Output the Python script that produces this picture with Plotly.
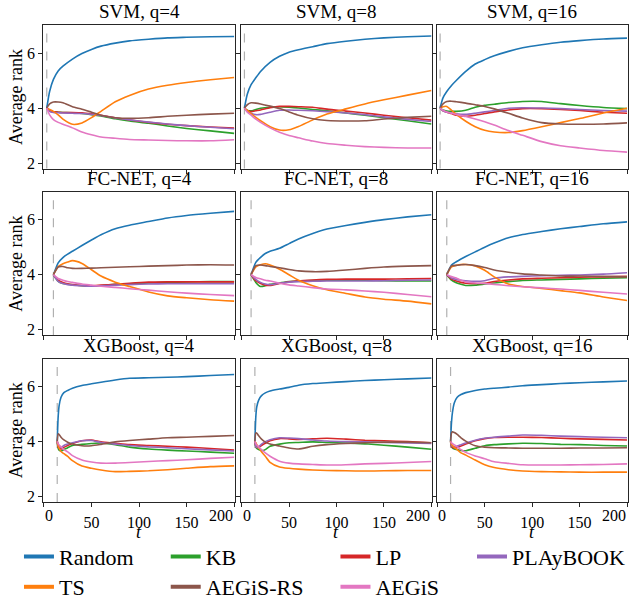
import plotly.graph_objects as go

# ---------------- data ----------------
methods = ["Random", "KB", "LP", "PLAyBOOK", "TS", "AEGiS-RS", "AEGiS"]
colors = ["#1f77b4", "#2ca02c", "#d62728", "#9467bd", "#ff7f0e", "#8c564b", "#e377c2"]
models = ["SVM", "FC-NET", "XGBoost"]
qs = [4, 8, 16]
start_t = [3, 10, 14]          # initial-design size (dashed line)
x_ticks = [0, 50, 100, 150, 200]
x_ticklabels = ["0", "50", "100", "150", "200"]
y_ticks = [2, 4, 6]

t_svm = [3, 6, 10, 15, 20, 30, 40, 50, 60, 75, 90, 110, 130, 150, 175, 200]
t_fc = [10, 15, 20, 25, 30, 40, 50, 60, 75, 90, 110, 130, 150, 175, 200]
t_xgb = [14, 15, 16, 18, 21, 25, 30, 40, 50, 60, 75, 90, 110, 130, 150, 175, 200]

# SVM q=4
svm4_random = [4.0, 4.6, 5.04, 5.35, 5.52, 5.78, 5.98, 6.13, 6.25, 6.36, 6.44, 6.50, 6.55, 6.57, 6.59, 6.60]
svm4_kb = [4.0, 3.9, 3.86, 3.85, 3.84, 3.83, 3.80, 3.76, 3.71, 3.61, 3.53, 3.45, 3.35, 3.26, 3.17, 3.08]
svm4_lp = [4.0, 3.9, 3.86, 3.85, 3.84, 3.84, 3.83, 3.79, 3.74, 3.65, 3.57, 3.48, 3.41, 3.36, 3.31, 3.27]
svm4_play = [4.0, 3.88, 3.84, 3.83, 3.82, 3.81, 3.80, 3.77, 3.73, 3.64, 3.57, 3.49, 3.42, 3.36, 3.30, 3.25]
svm4_ts = [4.0, 3.95, 3.88, 3.75, 3.6, 3.41, 3.46, 3.65, 3.88, 4.23, 4.46, 4.69, 4.83, 4.93, 5.03, 5.11]
svm4_rs = [4.0, 4.15, 4.22, 4.22, 4.19, 4.05, 3.96, 3.85, 3.74, 3.65, 3.63, 3.65, 3.70, 3.74, 3.78, 3.81]
svm4_aegis = [4.0, 3.75, 3.58, 3.48, 3.41, 3.28, 3.13, 3.03, 2.95, 2.90, 2.86, 2.84, 2.82, 2.81, 2.81, 2.85]

# SVM q=8
svm8_random = [4.0, 4.5, 4.85, 5.1, 5.33, 5.66, 5.88, 6.03, 6.12, 6.23, 6.34, 6.43, 6.50, 6.55, 6.59, 6.62]
svm8_kb = [4.0, 3.92, 3.9, 3.95, 3.99, 4.03, 4.05, 4.03, 4.0, 3.95, 3.9, 3.82, 3.74, 3.65, 3.54, 3.42]
svm8_lp = [4.0, 3.9, 3.87, 3.9, 3.93, 4.01, 4.06, 4.06, 4.05, 4.03, 3.96, 3.89, 3.82, 3.74, 3.65, 3.56]
svm8_play = [4.0, 3.88, 3.81, 3.76, 3.77, 3.85, 3.92, 3.93, 3.92, 3.9, 3.87, 3.82, 3.76, 3.68, 3.59, 3.51]
svm8_ts = [4.0, 3.92, 3.80, 3.66, 3.54, 3.32, 3.2, 3.21, 3.33, 3.57, 3.78, 3.97, 4.15, 4.30, 4.47, 4.64]
svm8_rs = [4.0, 4.12, 4.19, 4.18, 4.15, 4.07, 3.98, 3.86, 3.74, 3.61, 3.55, 3.53, 3.54, 3.60, 3.66, 3.70]
svm8_aegis = [4.0, 3.85, 3.74, 3.6, 3.48, 3.28, 3.12, 3.0, 2.92, 2.80, 2.71, 2.65, 2.60, 2.57, 2.55, 2.55]

# SVM q=16
svm16_random = [4.0, 4.37, 4.6, 4.82, 5.0, 5.33, 5.6, 5.76, 5.9, 6.06, 6.19, 6.3, 6.39, 6.45, 6.51, 6.54]
svm16_kb = [4.0, 3.93, 3.89, 3.88, 3.88, 3.92, 4.03, 4.1, 4.14, 4.2, 4.24, 4.24, 4.16, 4.09, 4.02, 3.98]
svm16_lp = [4.0, 3.9, 3.85, 3.8, 3.74, 3.7, 3.74, 3.8, 3.86, 3.93, 3.98, 3.98, 3.95, 3.91, 3.85, 3.81]
svm16_play = [4.0, 3.9, 3.85, 3.82, 3.79, 3.77, 3.81, 3.86, 3.91, 3.99, 4.01, 4.0, 3.98, 3.95, 3.91, 3.89]
svm16_ts = [4.0, 4.05, 4.06, 3.92, 3.77, 3.52, 3.32, 3.19, 3.13, 3.11, 3.18, 3.32, 3.47, 3.62, 3.82, 3.99]
svm16_rs = [4.0, 4.15, 4.24, 4.25, 4.23, 4.18, 4.12, 4.06, 3.97, 3.81, 3.64, 3.47, 3.42, 3.41, 3.42, 3.46]
svm16_aegis = [4.0, 3.92, 3.86, 3.81, 3.77, 3.69, 3.6, 3.5, 3.38, 3.18, 3.01, 2.78, 2.63, 2.55, 2.46, 2.40]

# FC-NET q=4
fc4_random = [4.0, 4.43, 4.62, 4.75, 4.85, 5.06, 5.26, 5.45, 5.67, 5.8, 5.93, 6.06, 6.15, 6.23, 6.30]
fc4_kb = [4.0, 3.76, 3.68, 3.65, 3.63, 3.6, 3.58, 3.6, 3.65, 3.67, 3.7, 3.72, 3.74, 3.75, 3.75]
fc4_lp = [4.0, 3.8, 3.72, 3.67, 3.64, 3.61, 3.6, 3.62, 3.65, 3.69, 3.73, 3.74, 3.74, 3.74, 3.74]
fc4_play = [4.0, 3.76, 3.68, 3.64, 3.62, 3.6, 3.58, 3.6, 3.62, 3.64, 3.66, 3.67, 3.67, 3.67, 3.67]
fc4_ts = [4.0, 4.3, 4.4, 4.46, 4.51, 4.41, 4.18, 3.95, 3.73, 3.57, 3.37, 3.23, 3.16, 3.09, 3.04]
fc4_rs = [4.0, 4.28, 4.3, 4.25, 4.23, 4.23, 4.24, 4.25, 4.27, 4.29, 4.31, 4.33, 4.35, 4.36, 4.35]
fc4_aegis = [4.0, 3.86, 3.8, 3.75, 3.72, 3.66, 3.62, 3.58, 3.54, 3.49, 3.44, 3.38, 3.33, 3.28, 3.24]

# FC-NET q=8
fc8_random = [4.0, 4.45, 4.63, 4.77, 4.85, 4.96, 5.13, 5.3, 5.5, 5.66, 5.79, 5.9, 6.0, 6.1, 6.18]
fc8_kb = [4.0, 3.72, 3.57, 3.6, 3.65, 3.7, 3.75, 3.77, 3.79, 3.8, 3.8, 3.8, 3.78, 3.77, 3.77]
fc8_lp = [4.0, 3.78, 3.68, 3.62, 3.61, 3.68, 3.74, 3.78, 3.81, 3.83, 3.84, 3.84, 3.84, 3.85, 3.86]
fc8_play = [4.0, 3.83, 3.72, 3.66, 3.64, 3.69, 3.73, 3.75, 3.76, 3.77, 3.77, 3.77, 3.78, 3.8, 3.81]
fc8_ts = [4.0, 4.28, 4.36, 4.4, 4.35, 4.2, 4.0, 3.8, 3.6, 3.45, 3.32, 3.19, 3.11, 3.04, 2.94]
fc8_rs = [4.0, 4.33, 4.35, 4.33, 4.3, 4.25, 4.19, 4.14, 4.11, 4.12, 4.17, 4.23, 4.28, 4.31, 4.33]
fc8_aegis = [4.0, 3.9, 3.85, 3.8, 3.77, 3.69, 3.63, 3.59, 3.53, 3.48, 3.45, 3.41, 3.36, 3.28, 3.20]

# FC-NET q=16
fc16_random = [4.0, 4.35, 4.47, 4.57, 4.66, 4.83, 5.0, 5.15, 5.34, 5.46, 5.57, 5.67, 5.75, 5.85, 5.92]
fc16_kb = [4.0, 3.8, 3.71, 3.65, 3.61, 3.62, 3.66, 3.7, 3.75, 3.79, 3.81, 3.83, 3.85, 3.87, 3.89]
fc16_lp = [4.0, 3.84, 3.77, 3.72, 3.69, 3.68, 3.69, 3.75, 3.81, 3.85, 3.87, 3.89, 3.91, 3.92, 3.94]
fc16_play = [4.0, 3.88, 3.83, 3.8, 3.78, 3.76, 3.78, 3.87, 3.92, 3.94, 3.96, 3.98, 3.99, 4.02, 4.07]
fc16_ts = [4.0, 4.28, 4.34, 4.37, 4.37, 4.32, 4.16, 3.92, 3.66, 3.57, 3.5, 3.42, 3.34, 3.19, 3.06]
fc16_rs = [4.0, 4.32, 4.34, 4.36, 4.37, 4.33, 4.26, 4.17, 4.09, 4.03, 3.99, 3.95, 3.95, 3.94, 3.92]
fc16_aegis = [4.0, 3.93, 3.88, 3.8, 3.74, 3.7, 3.68, 3.65, 3.6, 3.56, 3.52, 3.48, 3.43, 3.36, 3.30]

# XGBoost q=4
xgb4_random = [4.0, 4.9, 5.3, 5.6, 5.77, 5.85, 5.93, 6.03, 6.09, 6.15, 6.23, 6.29, 6.31, 6.33, 6.35, 6.39, 6.43]
xgb4_kb = [4.0, 3.75, 3.68, 3.65, 3.7, 3.77, 3.85, 3.89, 3.92, 3.94, 3.88, 3.79, 3.72, 3.68, 3.65, 3.61, 3.57]
xgb4_lp = [4.0, 3.8, 3.75, 3.72, 3.78, 3.85, 3.92, 4.02, 4.05, 3.98, 3.93, 3.88, 3.85, 3.82, 3.79, 3.74, 3.68]
xgb4_play = [4.0, 3.84, 3.8, 3.78, 3.85, 3.9, 3.95, 4.02, 4.03, 3.96, 3.9, 3.85, 3.8, 3.77, 3.73, 3.69, 3.65]
xgb4_ts = [4.0, 3.85, 3.75, 3.63, 3.55, 3.45, 3.3, 3.1, 3.02, 2.96, 2.9, 2.91, 2.93, 2.97, 3.02, 3.08, 3.11]
xgb4_rs = [4.0, 4.27, 4.25, 4.15, 4.05, 3.97, 3.9, 3.84, 3.84, 3.89, 3.98, 4.03, 4.08, 4.13, 4.15, 4.18, 4.21]
xgb4_aegis = [4.0, 3.92, 3.87, 3.8, 3.7, 3.62, 3.48, 3.32, 3.25, 3.21, 3.21, 3.23, 3.27, 3.3, 3.33, 3.38, 3.42]

# XGBoost q=8
xgb8_random = [4.0, 4.9, 5.25, 5.5, 5.66, 5.76, 5.83, 5.9, 5.96, 6.04, 6.1, 6.13, 6.17, 6.21, 6.24, 6.27, 6.30]
xgb8_kb = [4.0, 3.8, 3.74, 3.7, 3.66, 3.7, 3.82, 3.9, 3.95, 3.96, 3.98, 3.96, 3.94, 3.91, 3.86, 3.79, 3.71]
xgb8_lp = [4.0, 3.82, 3.78, 3.78, 3.85, 3.93, 4.02, 4.1, 4.09, 4.07, 4.09, 4.11, 4.08, 4.04, 4.02, 3.99, 3.95]
xgb8_play = [4.0, 3.82, 3.78, 3.8, 3.9, 3.99, 4.06, 4.13, 4.12, 4.1, 4.05, 4.01, 3.99, 3.98, 3.96, 3.94, 3.92]
xgb8_ts = [4.0, 3.95, 3.88, 3.78, 3.62, 3.46, 3.24, 3.07, 3.02, 2.99, 2.96, 2.94, 2.93, 2.92, 2.93, 2.94, 2.94]
xgb8_rs = [4.0, 4.3, 4.3, 4.2, 4.08, 3.97, 3.9, 3.83, 3.76, 3.72, 3.82, 3.88, 3.92, 3.95, 3.97, 3.97, 3.95]
xgb8_aegis = [4.0, 3.92, 3.87, 3.8, 3.7, 3.58, 3.46, 3.28, 3.21, 3.18, 3.16, 3.14, 3.15, 3.18, 3.2, 3.23, 3.27]

# XGBoost q=16
xgb16_random = [4.0, 4.7, 5.05, 5.4, 5.6, 5.7, 5.77, 5.85, 5.9, 5.93, 5.97, 6.02, 6.06, 6.1, 6.13, 6.16, 6.19]
xgb16_kb = [4.0, 3.82, 3.76, 3.72, 3.7, 3.67, 3.66, 3.75, 3.84, 3.88, 3.91, 3.93, 3.92, 3.89, 3.88, 3.85, 3.83]
xgb16_lp = [4.0, 3.82, 3.78, 3.76, 3.78, 3.83, 3.9, 4.02, 4.1, 4.14, 4.15, 4.15, 4.14, 4.11, 4.09, 4.07, 4.05]
xgb16_play = [4.0, 3.85, 3.82, 3.8, 3.83, 3.88, 3.94, 4.04, 4.11, 4.15, 4.19, 4.23, 4.22, 4.19, 4.17, 4.15, 4.13]
xgb16_ts = [4.0, 3.9, 3.85, 3.78, 3.7, 3.58, 3.5, 3.32, 3.15, 3.05, 2.97, 2.92, 2.9, 2.89, 2.88, 2.88, 2.88]
xgb16_rs = [4.0, 4.3, 4.35, 4.32, 4.25, 4.13, 4.01, 3.84, 3.79, 3.77, 3.76, 3.75, 3.75, 3.75, 3.76, 3.76, 3.77]
xgb16_aegis = [4.0, 3.95, 3.92, 3.87, 3.8, 3.7, 3.6, 3.47, 3.37, 3.26, 3.2, 3.15, 3.14, 3.14, 3.15, 3.16, 3.18]

row_t = [t_svm, t_fc, t_xgb]
panels = [
    [
        [svm4_random, svm4_kb, svm4_lp, svm4_play, svm4_ts, svm4_rs, svm4_aegis],
        [svm8_random, svm8_kb, svm8_lp, svm8_play, svm8_ts, svm8_rs, svm8_aegis],
        [svm16_random, svm16_kb, svm16_lp, svm16_play, svm16_ts, svm16_rs, svm16_aegis],
    ],
    [
        [fc4_random, fc4_kb, fc4_lp, fc4_play, fc4_ts, fc4_rs, fc4_aegis],
        [fc8_random, fc8_kb, fc8_lp, fc8_play, fc8_ts, fc8_rs, fc8_aegis],
        [fc16_random, fc16_kb, fc16_lp, fc16_play, fc16_ts, fc16_rs, fc16_aegis],
    ],
    [
        [xgb4_random, xgb4_kb, xgb4_lp, xgb4_play, xgb4_ts, xgb4_rs, xgb4_aegis],
        [xgb8_random, xgb8_kb, xgb8_lp, xgb8_play, xgb8_ts, xgb8_rs, xgb8_aegis],
        [xgb16_random, xgb16_kb, xgb16_lp, xgb16_play, xgb16_ts, xgb16_rs, xgb16_aegis],
    ],
]

# ---------------- layout geometry ----------------
W, H = 630, 608
FONT = "Liberation Serif"
col_px = [(43.5, 235.0), (241.5, 432.5), (437.5, 628.5)]
row_px = [(26, 172), (196, 342), (366, 512)]
x_dom = [[a / W, b / W] for a, b in col_px]
y_dom = [[1 - b / H, 1 - a / H] for a, b in row_px]
X_RANGE = [-0.5, 200.5]
AX = "#262626"
TICKFONT = dict(family=FONT, size=16, color="black")
# inner tick labels come from the axis; the end labels ("0" right of its tick,
# "200" left of its tick, as in the reference) are axis-anchored annotations
inner_text = [""] + x_ticklabels[1:-1] + [""]

fig = go.Figure()
layout = dict(
    width=W, height=H,
    margin=dict(l=0, r=0, t=0, b=0),
    paper_bgcolor="white", plot_bgcolor="white",
    font=dict(family=FONT, size=16, color="black"),
    showlegend=True,
)
annotations = []
shapes = []

for r in range(3):
    for c in range(3):
        k = r * 3 + c + 1
        xa = "x" if k == 1 else f"x{k}"
        ya = "y" if k == 1 else f"y{k}"
        xkey = "xaxis" if k == 1 else f"xaxis{k}"
        ykey = "yaxis" if k == 1 else f"yaxis{k}"
        layout[xkey] = dict(
            domain=x_dom[c], anchor=ya, range=X_RANGE,
            tickvals=x_ticks, ticktext=inner_text, showticklabels=(r == 2),
            ticks="outside", ticklen=4, tickwidth=1.2, tickcolor=AX,
            ticklabelstandoff=2,
            showline=True, mirror=True, linecolor=AX, linewidth=1.3,
            showgrid=False, zeroline=False, tickfont=TICKFONT,
        )
        layout[ykey] = dict(
            domain=y_dom[r], anchor=xa, range=[1.8, 7.0],
            tickvals=y_ticks, showticklabels=(c == 0),
            ticks="outside", ticklen=4, tickwidth=1.2, tickcolor=AX,
            showline=True, mirror=True, linecolor=AX, linewidth=1.3,
            showgrid=False, zeroline=False, tickfont=TICKFONT,
        )
        if r == 2:
            for val, txt, anc in [(x_ticks[0], x_ticklabels[0], "left"),
                                  (x_ticks[-1], x_ticklabels[-1], "right")]:
                annotations.append(dict(
                    text=txt, x=val, xref=xa, y=0, yref=f"{ya} domain",
                    xanchor=anc, yanchor="top", yshift=-4, showarrow=False,
                    borderpad=0, font=TICKFONT,
                ))
        shapes.append(dict(
            type="line", xref=xa, yref=f"{ya} domain",
            x0=start_t[r], x1=start_t[r], y0=0, y1=1,
            line=dict(color="#b0b0b0", width=1.2, dash="dash"), layer="below",
        ))
        for m, name in enumerate(methods):
            fig.add_trace(go.Scatter(
                x=row_t[r], y=panels[r][c][m], mode="lines",
                line=dict(color=colors[m], width=1.6, shape="spline", smoothing=0.6),
                name=name, showlegend=False, xaxis=xa, yaxis=ya,
                hoverinfo="skip",
            ))
        annotations.append(dict(
            text=f"{models[r]}, q={qs[c]}", x=sum(x_dom[c]) / 2, y=y_dom[r][1],
            xref="paper", yref="paper", xanchor="center", yanchor="bottom",
            yshift=1, showarrow=False, font=dict(family=FONT, size=19, color="black"),
        ))
    annotations.append(dict(
        text="Average rank", x=16 / W, y=sum(y_dom[r]) / 2, xref="paper", yref="paper",
        xanchor="center", yanchor="middle", textangle=-90, showarrow=False,
        font=dict(family=FONT, size=18, color="black"),
    ))

for c in range(3):
    annotations.append(dict(
        text="<i>t</i>", x=sum(x_dom[c]) / 2, y=1 - 543 / H, xref="paper", yref="paper",
        xanchor="center", yanchor="middle", showarrow=False,
        font=dict(family=FONT, size=18, color="black"),
    ))

legend_cols_px = [19, 166, 336, 473]
legend_rows_px = [568.0, 599.0]
legend_slots = [(0, 0), (1, 0), (2, 0), (3, 0), (0, 1), (1, 1), (2, 1)]
for m, name in enumerate(methods):
    key = "legend" if m == 0 else f"legend{m + 1}"
    cx, ry = legend_slots[m]
    layout[key] = dict(
        x=legend_cols_px[cx] / W, y=1 - legend_rows_px[ry] / H,
        xanchor="left", yanchor="middle", xref="paper", yref="paper",
        bgcolor="rgba(0,0,0,0)", borderwidth=0,
        font=dict(family=FONT, size=22, color="black"),
    )
    fig.add_trace(go.Scatter(
        x=[None], y=[None], mode="lines", line=dict(color=colors[m], width=4),
        name=name, showlegend=True, legend=key, hoverinfo="skip",
    ))

layout["annotations"] = annotations
layout["shapes"] = shapes
fig.update_layout(**layout)
# remove the browser's default 8px body margin so the figure sits at the page origin
fig.write_html("out.html", config={"displayModeBar": False},
               post_script="document.body.style.margin='0px';")
